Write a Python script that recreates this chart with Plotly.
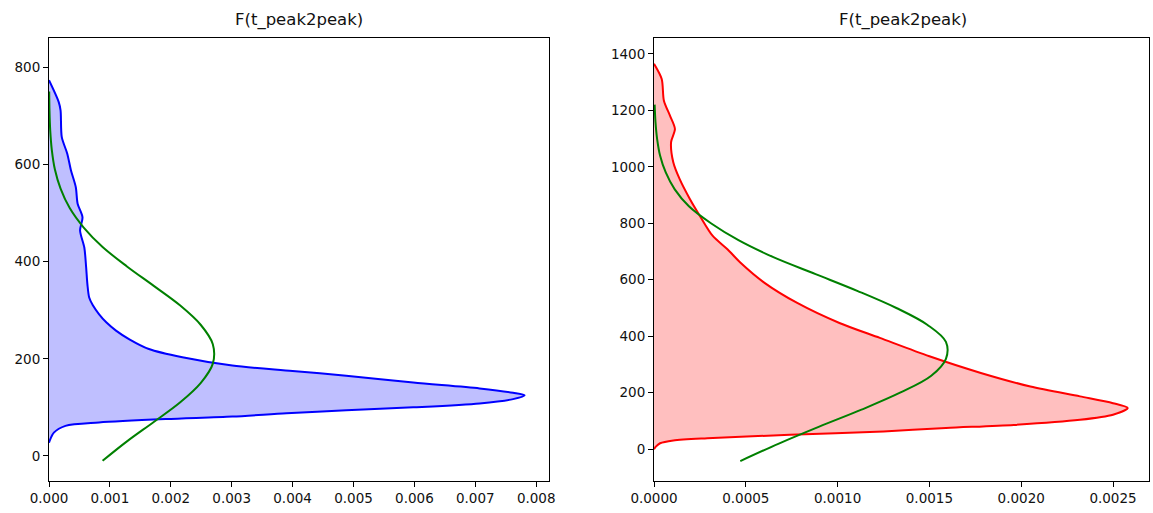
import plotly.graph_objects as go

# ---- Left panel (blue KDE + green normal fit) ----
left_kde_y = [27, 31, 48, 62, 69, 76, 81, 88, 94, 100, 108, 117, 125, 130, 139, 151, 165, 175, 186, 203, 220, 240, 258, 275, 292, 310, 326, 354, 388, 429, 464, 491, 519, 553, 588, 622, 656, 711, 728, 773]
left_kde_x = [0, 0.00001, 0.00008, 0.00027, 0.00082, 0.00192, 0.00301, 0.0039, 0.00488, 0.00598, 0.00707, 0.00762, 0.00781, 0.00762, 0.00707, 0.00598, 0.00488, 0.004, 0.00301, 0.00219, 0.00164, 0.00132, 0.0011, 0.00094, 0.00082, 0.00072, 0.00066, 0.00063, 0.00061, 0.00058, 0.00051, 0.00055, 0.00047, 0.00044, 0.00036, 0.0003, 0.00021, 0.00019, 0.00016, 0]

left_fit_y = [-10, 30, 70, 110, 150, 190, 230, 270, 310, 350, 390, 430, 470, 510, 550, 590, 630, 670, 710, 750]
left_fit_x = [0.00088, 0.00128, 0.00172, 0.00215, 0.00249, 0.00269, 0.00269, 0.00249, 0.00215, 0.00172, 0.00128, 0.00088, 0.00057, 0.00034, 0.00019, 0.000096, 0.000046, 0.00002, 0.000008, 0.000003]

# ---- Right panel (red KDE + green normal fit) ----
right_kde_y = [0, 9, 21, 31, 39, 51, 63, 75, 86, 104, 122, 146, 163, 187, 222, 270, 329, 394, 447, 518, 590, 661, 708, 755, 826, 885, 956, 1016, 1087, 1134, 1181, 1234, 1311, 1365]
right_kde_x = [0, 0.00001, 0.000033, 0.000105, 0.00029, 0.00074, 0.00125, 0.00159, 0.00196, 0.00232, 0.0025, 0.00258, 0.0025, 0.00232, 0.00205, 0.00178, 0.0015, 0.00123, 0.00101, 0.00078, 0.0006, 0.00047, 0.0004, 0.00032, 0.00025, 0.000196, 0.00014, 0.000105, 0.000093, 0.000114, 0.000087, 0.000054, 0.000042, 0]

right_fit_y = [-42, 20, 80, 140, 200, 260, 320, 380, 440, 500, 560, 620, 680, 740, 800, 860, 920, 980, 1040, 1100, 1160, 1220]
right_fit_x = [0.00047, 0.00068, 0.0009, 0.00113, 0.00134, 0.00151, 0.00159, 0.00159, 0.00149, 0.00132, 0.00111, 0.00088, 0.00065, 0.00046, 0.00031, 0.00019, 0.000113, 0.000064, 0.000033, 0.0000167, 0.0000079, 0.0000035]

titles = ["F(t_peak2peak)", "F(t_peak2peak)"]
left_yticks = [0, 200, 400, 600, 800]
left_xticks = [0, 0.001, 0.002, 0.003, 0.004, 0.005, 0.006, 0.007, 0.008]
right_yticks = [0, 200, 400, 600, 800, 1000, 1200, 1400]
right_xticks = [0, 0.0005, 0.001, 0.0015, 0.002, 0.0025]

W, H = 1153, 513
ML, MR, MT, MB = 49, 4, 38, 32
PW = W - ML - MR
PH = H - MT - MB
FONT = "DejaVu Sans"
TXT = "#111"

fig = go.Figure()
fig.add_trace(go.Scatter(x=left_kde_x, y=left_kde_y, mode="lines", fill="tozerox",
                         fillcolor="rgba(0,0,255,0.25)", line=dict(color="blue", width=2, shape="spline", smoothing=0.8),
                         xaxis="x", yaxis="y", showlegend=False))
fig.add_trace(go.Scatter(x=left_fit_x, y=left_fit_y, mode="lines",
                         line=dict(color="green", width=2, shape="spline", smoothing=1.0),
                         xaxis="x", yaxis="y", showlegend=False))
fig.add_trace(go.Scatter(x=right_kde_x, y=right_kde_y, mode="lines", fill="tozerox",
                         fillcolor="rgba(255,0,0,0.25)", line=dict(color="red", width=2, shape="spline", smoothing=0.8),
                         xaxis="x2", yaxis="y2", showlegend=False))
fig.add_trace(go.Scatter(x=right_fit_x, y=right_fit_y, mode="lines",
                         line=dict(color="green", width=2, shape="spline", smoothing=1.0),
                         xaxis="x2", yaxis="y2", showlegend=False))

common = dict(showgrid=False, zeroline=False, showline=True, linecolor="black", linewidth=1,
              mirror=True, ticks="outside", ticklen=5, tickcolor="black", automargin=False,
              tickfont=dict(family=FONT, size=13.5, color=TXT))

fig.update_layout(
    width=W, height=H, margin=dict(l=ML, r=MR, t=MT, b=MB),
    paper_bgcolor="white", plot_bgcolor="white",
    xaxis=dict(domain=[0, 500 / PW], range=[0, 0.00821], tickvals=left_xticks,
               tickformat=".3f", anchor="y", **common),
    yaxis=dict(domain=[0, 1], range=[-51.5, 860], tickvals=left_yticks, anchor="x", **common),
    xaxis2=dict(domain=[(654 - ML) / PW, 1], range=[0, 0.002696], tickvals=right_xticks,
                tickformat=".4f", anchor="y2", **common),
    yaxis2=dict(domain=[0, 1], range=[-112.6, 1456], tickvals=right_yticks, anchor="x2", **common),
    annotations=[
        dict(text=titles[0], x=(299 - ML) / PW, y=1 + 18 / PH, xref="paper", yref="paper",
             showarrow=False, font=dict(family=FONT, size=16.5, color=TXT), xanchor="center", yanchor="middle"),
        dict(text=titles[1], x=(903 - ML) / PW, y=1 + 18 / PH, xref="paper", yref="paper",
             showarrow=False, font=dict(family=FONT, size=16.5, color=TXT), xanchor="center", yanchor="middle"),
    ],
)

fig.write_html("out.html", config={"displayModeBar": False},
               post_script="document.body.style.margin='0';document.body.style.overflow='hidden';")
